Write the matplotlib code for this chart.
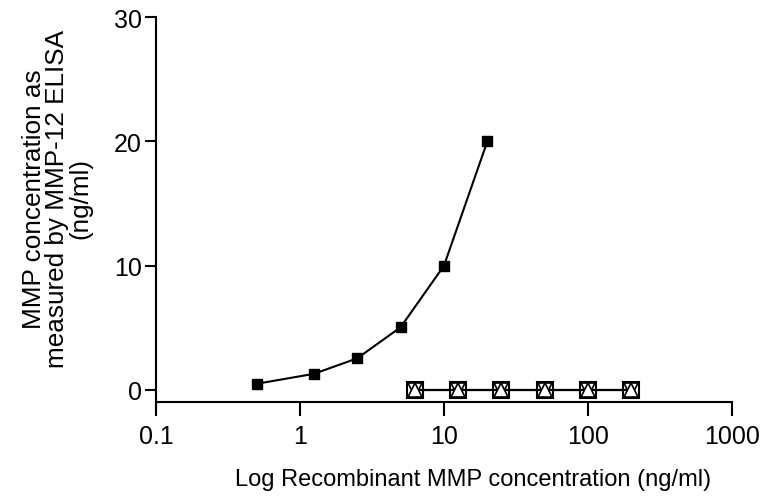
import matplotlib
matplotlib.use("Agg")
import matplotlib.pyplot as plt

plt.rcParams['font.family'] = ['Liberation Sans', 'DejaVu Sans']

# Data
x_mmp12 = [0.5, 1.25, 2.5, 5, 10, 20]
y_mmp12 = [0.5, 1.3, 2.55, 5.05, 10.0, 20.0]
x_other = [6.25, 12.5, 25, 50, 100, 200]
y_sq = [0, 0, 0, 0, 0, 0]
y_dn = [0, 0, 0, 0, 0, 0]
y_up = [0, 0, 0, 0, 0, 0]
xticks = [0.1, 1, 10, 100, 1000]
xtick_labels = ["0.1", "1", "10", "100", "1000"]
yticks = [0, 10, 20, 30]

fig = plt.figure(figsize=(7.63, 5.02), dpi=100)
W, H = 763, 502
ax = fig.add_axes([156 / W, 1 - 413 / H, (732 - 156) / W, (413 - 18) / H])

ax.plot(x_other, y_sq, color='black', lw=1.5, marker='s', ms=11,
        mfc='white', mec='black', mew=1.5, zorder=3)
ax.plot(x_other, y_dn, color='black', lw=1.5, marker='v', ms=10,
        mfc='white', mec='black', mew=1.2, zorder=4)
ax.plot(x_other, y_up, color='black', lw=1.5, marker='^', ms=10,
        mfc='white', mec='black', mew=1.2, zorder=5)
ax.plot(x_mmp12, y_mmp12, color='black', lw=1.5, marker='s', ms=7,
        mfc='black', mec='black', zorder=6)

ax.set_xscale('log')
ax.set_xlim(0.1, 1000)
ax.set_ylim(-1.77, 30)
ax.set_xticks(xticks)
ax.set_xticklabels(xtick_labels)
ax.minorticks_off()
ax.set_yticks(yticks)

ax.spines['top'].set_visible(False)
ax.spines['right'].set_visible(False)
ax.spines['bottom'].set_position(('data', -0.96))
for s in ['left', 'bottom']:
    ax.spines[s].set_linewidth(1.5)
ax.tick_params(axis='x', length=10, width=1.5, labelsize=18, pad=6)
ax.tick_params(axis='y', length=8, width=1.5, labelsize=18, pad=2)

fig.text(473 / W, 1 - 480 / H, "Log Recombinant MMP concentration (ng/ml)",
         fontsize=17, ha='center', va='center')
fig.text(57 / W, 1 - 199 / H, "MMP concentration as\nmeasured by MMP-12 ELISA\n(ng/ml)",
         fontsize=18.8, ha='center', va='center', rotation=90,
         multialignment='center', linespacing=0.95)

fig.savefig("out.png", dpi=100)
